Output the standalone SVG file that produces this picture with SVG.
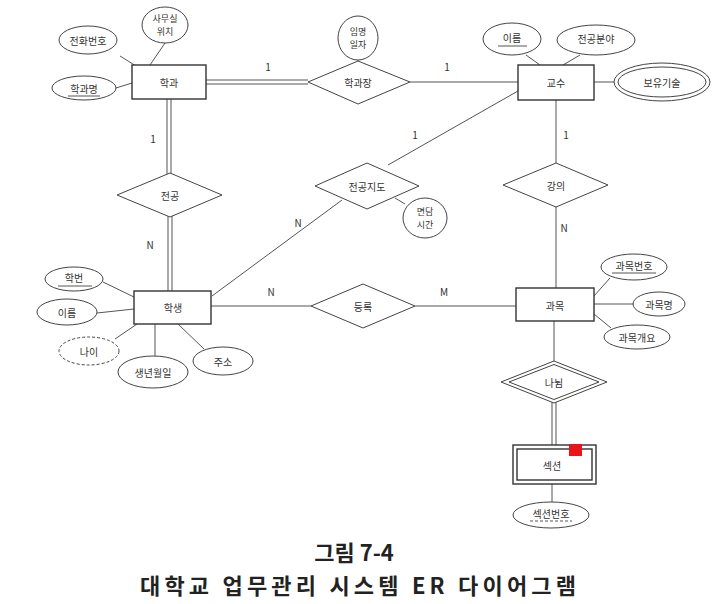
<svg xmlns="http://www.w3.org/2000/svg" width="720" height="604" viewBox="0 0 720 604">
<style>
.e{fill:#fff;stroke:#333;stroke-width:1.4}
.a{fill:#fff;stroke:#444;stroke-width:1}
.d{fill:#fff;stroke:#444;stroke-width:1}
.ln{stroke:#555;stroke-width:1;fill:none}
.t{font-family:"Noto Sans CJK KR","Noto Sans",sans-serif;font-size:10px;fill:#333;text-anchor:middle;dominant-baseline:central}
.t2{font-family:"Noto Sans CJK KR","Noto Sans",sans-serif;font-size:9px;fill:#333;text-anchor:middle;dominant-baseline:central}
.c{font-family:"Noto Sans CJK KR","Noto Sans",sans-serif;font-size:10px;fill:#333;text-anchor:middle}
.cap{font-family:"Noto Sans CJK KR","Noto Sans",sans-serif;font-weight:bold;font-size:22px;fill:#222;text-anchor:middle}
</style>
<rect width="720" height="604" fill="#fff"/>
<g id="connectors">
<line class="ln" x1="120" y1="56" x2="136" y2="66"/>
<line class="ln" x1="165" y1="43" x2="150" y2="65"/>
<line class="ln" x1="116" y1="88" x2="132" y2="83"/>
<line class="ln" x1="206" y1="80" x2="308" y2="80"/>
<line class="ln" x1="206" y1="84" x2="308" y2="84"/>
<line class="ln" x1="358" y1="60" x2="358" y2="61"/>
<line class="ln" x1="410" y1="82" x2="518" y2="82"/>
<line class="ln" x1="526" y1="55" x2="540" y2="65"/>
<line class="ln" x1="580" y1="55" x2="563" y2="65"/>
<line class="ln" x1="594" y1="82" x2="614" y2="82"/>
<line class="ln" x1="518" y1="91" x2="388" y2="165"/>
<line class="ln" x1="395" y1="198" x2="405" y2="204"/>
<line class="ln" x1="342" y1="200" x2="212" y2="296"/>
<line class="ln" x1="167" y1="99" x2="167" y2="174"/>
<line class="ln" x1="171" y1="99" x2="171" y2="174"/>
<line class="ln" x1="168" y1="216" x2="168" y2="291"/>
<line class="ln" x1="172" y1="216" x2="172" y2="291"/>
<line class="ln" x1="103" y1="282" x2="134" y2="297"/>
<line class="ln" x1="97" y1="313" x2="134" y2="309"/>
<line class="ln" x1="115" y1="339" x2="137" y2="324"/>
<line class="ln" x1="155" y1="324" x2="155" y2="356"/>
<line class="ln" x1="178" y1="324" x2="204" y2="349"/>
<line class="ln" x1="211" y1="306" x2="311" y2="306"/>
<line class="ln" x1="415" y1="306" x2="516" y2="306"/>
<line class="ln" x1="556" y1="100" x2="556" y2="163"/>
<line class="ln" x1="556" y1="207" x2="556" y2="288"/>
<line class="ln" x1="610" y1="278" x2="594" y2="296"/>
<line class="ln" x1="594" y1="304" x2="633" y2="304"/>
<line class="ln" x1="594" y1="314" x2="611" y2="328"/>
<line class="ln" x1="554" y1="321" x2="554" y2="361"/>
<line class="ln" x1="552" y1="402" x2="552" y2="445"/>
<line class="ln" x1="556" y1="402" x2="556" y2="445"/>
<line class="ln" x1="552" y1="484" x2="552" y2="502"/>
<text class="c" x="268" y="71">1</text>
<text class="c" x="447" y="71">1</text>
<text class="c" x="153" y="143">1</text>
<text class="c" x="150" y="249">N</text>
<text class="c" x="415" y="139">1</text>
<text class="c" x="298" y="227">N</text>
<text class="c" x="566" y="139">1</text>
<text class="c" x="564" y="232">N</text>
<text class="c" x="271" y="296">N</text>
<text class="c" x="444" y="296">M</text>
</g>
<g id="dept">
<rect class="e" x="132" y="65" width="74" height="34"/>
<text class="t" x="169" y="82">학과</text>
</g>
<g id="dept-phone"><ellipse class="a" cx="88" cy="40" rx="29" ry="14"/><text class="t" x="88" y="40">전화번호</text></g>
<g id="dept-office"><ellipse class="a" cx="165" cy="25" rx="23" ry="18"/><text class="t2" x="165" y="18.5">사무실</text><text class="t2" x="165" y="31.5">위치</text></g>
<g id="dept-name"><ellipse class="a" cx="84" cy="88" rx="32" ry="12"/><text class="t" x="84" y="88">학과명</text><line class="ln" x1="68" y1="96" x2="100" y2="96"/></g>
<g id="head">
<polygon class="d" points="308,82 358,61 410,82 358,104"/>
<text class="t" x="358" y="82">학과장</text>
</g>
<g id="head-date"><ellipse class="a" cx="358" cy="38" rx="20" ry="22"/><text class="t2" x="358" y="31.5">임명</text><text class="t2" x="358" y="44.5">일자</text></g>
<g id="prof">
<rect class="e" x="518" y="65" width="76" height="35"/>
<text class="t" x="556" y="82">교수</text>
</g>
<g id="prof-name"><ellipse class="a" cx="512" cy="39" rx="29" ry="16"/><text class="t" x="512" y="37">이름</text><line class="ln" x1="498" y1="46" x2="527" y2="46"/></g>
<g id="prof-major"><ellipse class="a" cx="596" cy="40" rx="39" ry="15"/><text class="t" x="596" y="38">전공분야</text></g>
<g id="prof-skill"><ellipse class="a" cx="662" cy="82" rx="48" ry="19"/><ellipse class="a" cx="662" cy="82" rx="44" ry="15"/><text class="t" x="662" y="82">보유기술</text></g>
<g id="advise">
<polygon class="d" points="315,186 367,163 419,186 367,209"/>
<text class="t" x="367" y="186">전공지도</text>
</g>
<g id="advise-time"><ellipse class="a" cx="425" cy="218" rx="22" ry="20"/><text class="t2" x="425" y="211.5">면담</text><text class="t2" x="425" y="224.5">시간</text></g>
<g id="major">
<polygon class="d" points="117,195 170,173 222,195 170,217"/>
<text class="t" x="170" y="195">전공</text>
</g>
<g id="lecture">
<polygon class="d" points="503,185 556,163 608,185 556,207"/>
<text class="t" x="556" y="185">강의</text>
</g>
<g id="student">
<rect class="e" x="134" y="291" width="77" height="33"/>
<text class="t" x="173" y="307">학생</text>
</g>
<g id="stu-id"><ellipse class="a" cx="74" cy="279" rx="29" ry="12"/><text class="t" x="74" y="277">학번</text><line class="ln" x1="58" y1="286" x2="92" y2="286"/></g>
<g id="stu-name"><ellipse class="a" cx="67" cy="312" rx="30" ry="13"/><text class="t" x="67" y="312">이름</text></g>
<g id="stu-age"><ellipse class="a" cx="89" cy="351" rx="30" ry="14" stroke-dasharray="3,2"/><text class="t" x="89" y="351">나이</text></g>
<g id="stu-birth"><ellipse class="a" cx="153" cy="372" rx="35" ry="16"/><text class="t" x="153" y="372">생년월일</text></g>
<g id="stu-addr"><ellipse class="a" cx="223" cy="361" rx="30" ry="14"/><text class="t" x="223" y="361">주소</text></g>
<g id="enroll">
<polygon class="d" points="311,306 363,284 415,306 363,328"/>
<text class="t" x="363" y="306">등록</text>
</g>
<g id="course">
<rect class="e" x="516" y="288" width="78" height="33"/>
<text class="t" x="555" y="305">과목</text>
</g>
<g id="course-no"><ellipse class="a" cx="634" cy="267" rx="33" ry="13"/><text class="t" x="634" y="265">과목번호</text><line class="ln" x1="612" y1="273" x2="656" y2="273"/></g>
<g id="course-name"><ellipse class="a" cx="659" cy="304" rx="26" ry="12"/><text class="t" x="659" y="304">과목명</text></g>
<g id="course-desc"><ellipse class="a" cx="637" cy="337" rx="33" ry="12"/><text class="t" x="637" y="337">과목개요</text></g>
<g id="divide">
<polygon class="d" points="501,382 554,361 607,382 554,403"/>
<polygon class="d" points="509,382 554,364.5 599,382 554,399.5"/>
<text class="t" x="554" y="382">나뉨</text>
</g>
<g id="section">
<rect class="e" x="513" y="445" width="83" height="39"/>
<rect class="e" x="517" y="449" width="75" height="31"/>
<rect x="569" y="444" width="13" height="12" fill="#e8141a"/>
<text class="t" x="552" y="465">섹션</text>
</g>
<g id="section-no"><ellipse class="a" cx="551" cy="515" rx="38" ry="13"/><text class="t" x="551" y="513">섹션번호</text><line class="ln" x1="530" y1="521" x2="572" y2="521" stroke-dasharray="3,2"/></g>
<g id="caption">
<text class="cap" x="354" y="561">그림 7-4</text>
<text class="cap" x="358" y="594" textLength="436" lengthAdjust="spacing">대학교 업무관리 시스템 ER 다이어그램</text>
</g>
</svg>
